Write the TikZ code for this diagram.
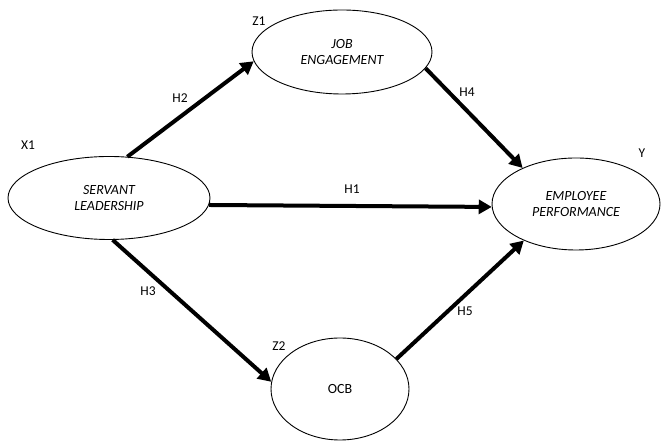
\documentclass[tikz,border=0pt]{standalone}
\usepackage{fontspec}
\setmainfont{Carlito}
\usetikzlibrary{shapes.geometric,arrows.meta}
\begin{document}
\begin{tikzpicture}[x=1pt,y=1pt,
    latent/.style={draw,ellipse,line width=0.9pt,inner sep=0pt,align=center,
        font=\fontsize{14}{16.5}\selectfont\itshape},
    hyp/.style={line width=4pt,-{Triangle[length=13pt,width=14pt]}},
    lbl/.style={font=\fontsize{13.5}{15}\selectfont}]
\useasboundingbox (0,0) rectangle (664,441);
% constructs
\node[latent,minimum width=202pt,minimum height=83pt] (sl) at (109,243) {SERVANT\\LEADERSHIP};
\node[latent,minimum width=180pt,minimum height=84pt] (je) at (342,389) {JOB\\ENGAGEMENT};
\node[latent,minimum width=168pt,minimum height=92pt] (ep) at (576,237) {EMPLOYEE\\PERFORMANCE};
\node[latent,minimum width=138pt,minimum height=102pt,font=\fontsize{14}{16.5}\selectfont] (ocb) at (340,52) {OCB};
% variable names
\node[lbl] (x1) at (28,296) {X1};
\node[lbl] (z1) at (259,420) {Z1};
\node[lbl] (y)  at (642,288) {Y};
\node[lbl] (z2) at (279,95)  {Z2};
% paths
\draw[hyp] (sl.66)  -- (je.186);
\draw[hyp] (je.-11) -- (ep.146);
\draw[hyp] (sl.-4)  -- (ep.182);
\draw[hyp] (sl.275) -- (ocb.174);
\draw[hyp] (ocb.28) -- (ep.215);
% hypotheses
\node[lbl] (h2) at (180,343) {H2};
\node[lbl] (h4) at (467,349) {H4};
\node[lbl] (h1) at (352,252) {H1};
\node[lbl] (h3) at (148,150) {H3};
\node[lbl] (h5) at (465,130) {H5};
\end{tikzpicture}
\end{document}
